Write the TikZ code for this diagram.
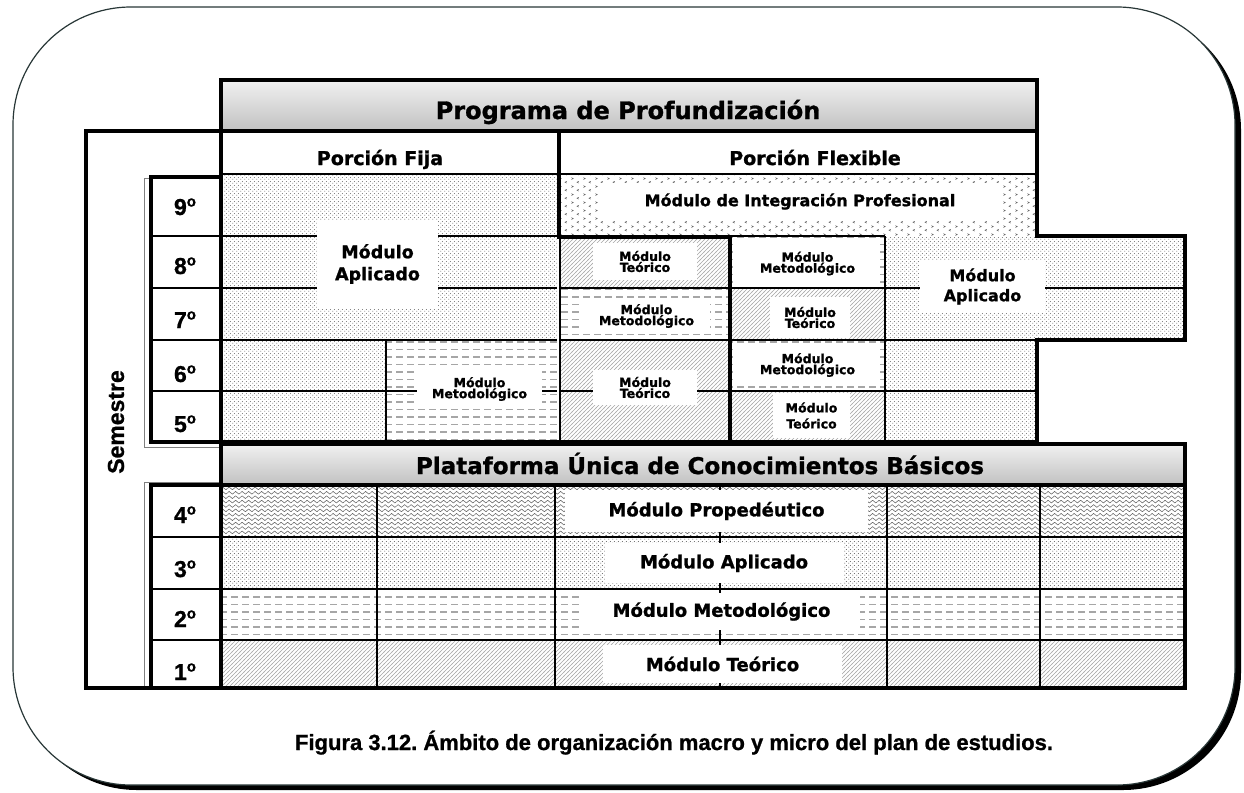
\documentclass[tikz,border=0pt]{standalone}
\usepackage{fontspec}
\setmainfont{DejaVu Sans}
\newfontfamily\dvfont{DejaVu Sans}[BoldFeatures={FakeBold=1.2}]
\newfontfamily\arfont{Liberation Sans}[BoldFeatures={FakeBold=1.0}]
\usetikzlibrary{patterns.meta}
\definecolor{pc}{gray}{0.35}
\definecolor{fr}{RGB}{40,55,55}
\newcommand\myord{\raisebox{8.5pt}{\fontsize{15}{15}\selectfont o}}
\tikzdeclarepattern{name=pdots, type=uncolored,
  bounding box={(0pt,0pt) and (4pt,4pt)}, tile size={(4pt,4pt)},
  code={\fill (1pt,1pt) circle (0.6pt); \fill (3pt,3pt) circle (0.6pt);}}
\tikzdeclarepattern{name=phatch, type=uncolored,
  bounding box={(-0.5pt,-0.5pt) and (4.5pt,4.5pt)}, tile size={(4pt,4pt)},
  code={\draw[line width=0.6pt] (-0.5pt,-0.5pt) -- (4.5pt,4.5pt);}}
\tikzdeclarepattern{name=pdash, type=uncolored,
  bounding box={(0pt,-0.8pt) and (11pt,0.8pt)}, tile size={(11pt,7.5pt)},
  code={\fill (0pt,-0.75pt) rectangle (7pt,0.75pt);}}
\tikzdeclarepattern{name=pwave, type=uncolored,
  bounding box={(0pt,-1.5pt) and (6.5pt,1.5pt)}, tile size={(6.5pt,4.4pt)},
  code={\draw[line width=0.5pt] (0pt,0pt) .. controls (1.6pt,1.8pt) and (1.6pt,1.8pt) .. (3.25pt,0pt) .. controls (4.9pt,-1.8pt) and (4.9pt,-1.8pt) .. (6.5pt,0pt);}}
\tikzdeclarepattern{name=pchev, type=uncolored,
  bounding box={(0pt,0pt) and (12pt,8pt)}, tile size={(12pt,8pt)},
  code={\draw[line width=0.5pt] (3pt,1pt) -- (1pt,2pt) -- (3pt,3pt); \draw[line width=0.5pt] (8pt,5pt) -- (10pt,6pt) -- (8pt,7pt);}}
\frenchspacing
\begin{document}
\begin{tikzpicture}[x=1pt,y=-1pt,
  thk/.style={line width=3.2pt, line cap=rect},
  med/.style={line width=1.8pt},
  lbl/.style={fill=white, inner sep=0pt, align=center},
  lbs/.style={lbl, font=\dvfont\bfseries\fontsize{12.5}{11}\selectfont},
  lbm/.style={lbl, font=\dvfont\bfseries\fontsize{18}{22}\selectfont},
  rowlab/.style={anchor=base, font=\arfont\bfseries\fontsize{23}{23}\selectfont},
  dots/.style={pattern=pdots, pattern color=pc},
  hatch/.style={pattern=phatch, pattern color=gray!70},
  dashp/.style={pattern=pdash, pattern color=gray!70},
  wave/.style={pattern=pwave, pattern color=pc},
  chev/.style={pattern=pchev, pattern color=pc},
  hdr/.style={top color=gray!12, middle color=white, bottom color=gray!48}]
\useasboundingbox (0,0) rectangle (1244,792);
% frame
\fill[black, rounded corners=118pt] (19,12) rectangle (1241,790);
\draw[fill=white, draw=fr, line width=1.2pt, rounded corners=118pt] (13,7) rectangle (1235,785);

% ---------- pattern fills, upper part
\fill[dots] (222,175) rectangle (557,340);
\fill[dots] (222,340) rectangle (386,442);
\fill[dashp] (386,340) rectangle (557,442);
\fill[chev] (560,175) rectangle (1037,236);
\fill[hatch] (560,236) rectangle (730,288);
\fill[dashp] (560,288) rectangle (730,340);
\fill[hatch] (560,340) rectangle (730,442);
\fill[dashp] (730,236) rectangle (885,288);
\fill[hatch] (730,288) rectangle (885,340);
\fill[dashp] (730,340) rectangle (885,391);
\fill[hatch] (730,391) rectangle (885,442);
\fill[dots] (885,236) rectangle (1185,340);
\fill[dots] (885,340) rectangle (1037,442);
% ---------- pattern fills, lower part
\fill[wave] (222,485) rectangle (1185,537);
\fill[dots] (222,537) rectangle (1185,589);
\fill[dashp] (222,589) rectangle (1185,640);
\fill[hatch] (222,640) rectangle (1185,688);

% ---------- inner grid lines
\draw[med] (222,174) -- (1037,174);
\foreach \yy in {236,288,340,391} \draw[med] (222,\yy) -- (557,\yy);
\draw[med] (386,340) -- (386,442);
\foreach \yy in {288,340,391} \draw[med] (560,\yy) -- (885,\yy);
\draw[med] (560,236) -- (560,442);
\draw[med] (730,236) -- (885,236);
\draw[med] (885,236) -- (885,442);
\draw[med] (885,288) -- (1185,288);
\draw[med] (885,340) -- (1037,340);
\draw[med] (885,391) -- (1037,391);
\foreach \yy in {537,589,640} \draw[med] (222,\yy) -- (1185,\yy);
\foreach \xx in {377,555,720,887,1040} \draw[med] (\xx,485) -- (\xx,688);
% label column
\foreach \yy in {236,288,340,391,537,589,640} \draw[med] (151,\yy) -- (221,\yy);
\draw[gray, line width=0.8pt] (144,178) -- (144,447) -- (221,447);
\draw[gray, line width=0.8pt] (221,482) -- (144,482) -- (144,688);
\draw[gray, line width=0.8pt] (144,178) -- (221,178);

% ---------- labels (white boxes)
\node[lbl, font=\dvfont\bfseries\fontsize{17.5}{22}\selectfont, minimum width=121pt, minimum height=88pt] (fijaApl) at (377.5,264) {Módulo\\Aplicado};
\node[lbs, minimum width=125pt, minimum height=38pt] (fijaMet) at (479.5,389) {Módulo\\Metodológico};
\node[lbl, font=\dvfont\bfseries\fontsize{16}{18}\selectfont, minimum width=400pt, minimum height=37pt] (integ) at (800,201.5) {Módulo de Integración Profesional};
\node[lbs, minimum width=104pt, minimum height=37pt] (aTeo8) at (645,261.5) {Módulo\\Teórico};
\node[lbs, minimum width=127pt, minimum height=32pt] (aMet7) at (646.5,316) {Módulo\\Metodológico};
\node[lbs, minimum width=104pt, minimum height=35pt] (aTeo65) at (645,387.5) {Módulo\\Teórico};
\node[lbs, minimum width=145pt, minimum height=42pt] (bMet8) at (807.5,263.5) {Módulo\\Metodológico};
\node[lbs, minimum width=80pt, minimum height=41pt] (bTeo7) at (810,317.5) {Módulo\\Teórico};
\node[lbs, minimum width=145pt, minimum height=42pt] (bMet6) at (807.5,365) {Módulo\\Metodológico};
\node[lbl, font=\dvfont\bfseries\fontsize{12.5}{16}\selectfont, minimum width=77pt, minimum height=45pt] (bTeo5) at (811.5,415.5) {Módulo\\Teórico};
\node[lbl, font=\dvfont\bfseries\fontsize{16}{20}\selectfont, minimum width=125pt, minimum height=53pt] (cApl) at (982.5,286.5) {Módulo\\Aplicado};
\node[lbm, minimum width=303pt, minimum height=42pt] (lProp) at (716.5,511) {Módulo Propedéutico};
\node[lbm, minimum width=238pt, minimum height=40pt] (lApl) at (724,563) {Módulo Aplicado};
\node[lbm, minimum width=277pt, minimum height=37pt] (lMet) at (721.5,611.5) {Módulo Metodológico};
\node[lbm, minimum width=239pt, minimum height=38pt] (lTeo) at (722.5,664) {Módulo Teórico};

% ---------- headers
\shade[hdr] (222,81) rectangle (1036,130);
\draw[thk] (221,80) rectangle (1037,131);
\shade[hdr] (222,445) rectangle (1184,484);
\draw[thk] (221,444) rectangle (1185,485);

% ---------- thick structure
\draw[thk] (221,80) -- (221,688);
\draw[thk] (559,131) -- (559,237) -- (730,237) -- (730,442);
\draw[thk] (1037,80) -- (1037,236) -- (1185,236) -- (1185,340) -- (1037,340) -- (1037,442);
\draw[thk] (221,442) -- (1037,442);
\draw[thk] (221,485) rectangle (1185,688);
\draw[thk] (221,131) -- (86,131) -- (86,688) -- (221,688);
\draw[thk] (221,177) -- (151,177) -- (151,442) -- (221,442);
\draw[thk] (221,485) -- (151,485) -- (151,688);

% ---------- texts
\node[anchor=base, font=\dvfont\bfseries\fontsize{24}{24}\selectfont] (prog) at (628,119) {Programa de Profundización};
\node[anchor=base, font=\dvfont\bfseries\fontsize{19}{19}\selectfont] (fija) at (380,165) {Porción Fija};
\node[anchor=base, font=\dvfont\bfseries\fontsize{19}{19}\selectfont] (flex) at (815,165) {Porción Flexible};
\node[anchor=base, font=\dvfont\bfseries\fontsize{23}{23}\selectfont] (plat) at (700,474) {Plataforma Única de Conocimientos Básicos};
\foreach \n/\yy in {9/215,8/274,7/328,6/382,5/432,4/523,3/577,2/627,1/680}
  \node[rowlab] (r\n) at (185,\yy) {\n\myord};
\node[rotate=90, font=\arfont\bfseries\fontsize{23}{23}\selectfont] (sem) at (116,422) {Semestre};
\node[anchor=base, font=\arfont\bfseries\fontsize{22}{22}\selectfont] (cap) at (674,750) {Figura 3.12. Ámbito de organización macro y micro del plan de estudios.};
\end{tikzpicture}
\end{document}
